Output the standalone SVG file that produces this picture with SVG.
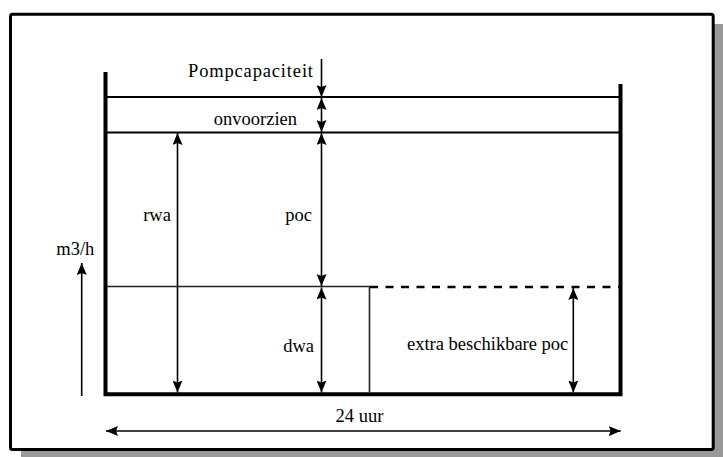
<svg xmlns="http://www.w3.org/2000/svg" width="723" height="457" viewBox="0 0 723 457">
<style>
text{font-family:"Liberation Serif","Times New Roman",serif;font-size:18.5px;fill:#000}
.thin{stroke:#000;stroke-width:2;fill:none}
.wall{stroke:#000;stroke-width:4;fill:none}
.arr{stroke:#000;stroke-width:1.6;fill:none;marker-end:url(#ah)}
.darr{stroke:#000;stroke-width:1.6;fill:none;marker-end:url(#ah);marker-start:url(#ah)}
</style>
<defs>
<marker id="ah" markerUnits="userSpaceOnUse" markerWidth="13" markerHeight="10" refX="12" refY="5" orient="auto-start-reverse">
<path d="M0,0 L12,5 L0,10 L2,5 z" fill="#000"/>
</marker>
</defs>
<g id="frame">
<rect x="21" y="24" width="712" height="445" fill="#999"/>
<rect x="10.5" y="14.3" width="702.7" height="435.2" rx="2" fill="#fff" stroke="#000" stroke-width="3"/>
</g>
<g id="basin">
<path class="wall" d="M105.5,72 V394.3 H620.5 V84"/>
<line class="thin" x1="107" y1="97" x2="619" y2="97"/>
<line class="thin" x1="107" y1="132.5" x2="619" y2="132.5"/>
<path d="M107,286.5 H369.5 V392" stroke="#222" stroke-width="1.6" fill="none"/>
<line x1="370" y1="287" x2="619" y2="287" stroke="#000" stroke-width="2.7" stroke-dasharray="8,7.5"/>
</g>
<g id="connectors">
<line class="arr" x1="321.5" y1="59" x2="321.5" y2="97"/>
<line class="darr" x1="321.5" y1="98" x2="321.5" y2="132"/>
<line class="darr" x1="321.5" y1="133" x2="321.5" y2="286"/>
<line class="darr" x1="321.5" y1="287.5" x2="321.5" y2="392.5"/>
<line class="darr" x1="177.5" y1="133" x2="177.5" y2="392.5"/>
<line class="darr" x1="573.3" y1="288" x2="573.3" y2="392.5"/>
<line class="arr" x1="81.7" y1="396" x2="81.7" y2="263"/>
<line class="darr" x1="106" y1="431" x2="620.7" y2="431"/>
</g>
<g id="labels">
<text id="pompcapaciteit" x="188" y="77.3" textLength="125" lengthAdjust="spacing">Pompcapaciteit</text>
<text id="onvoorzien" x="297" y="125" text-anchor="end">onvoorzien</text>
<text id="rwa" x="157" y="221" text-anchor="middle">rwa</text>
<text id="poc" x="298.5" y="221" text-anchor="middle">poc</text>
<text id="dwa" x="314" y="352" text-anchor="end">dwa</text>
<text id="extra" x="568.3" y="350" text-anchor="end">extra beschikbare poc</text>
<text id="m3h" x="75.3" y="255" text-anchor="middle">m3/h</text>
<text id="uur" x="359.5" y="421.7" text-anchor="middle">24 uur</text>
</g>
</svg>
